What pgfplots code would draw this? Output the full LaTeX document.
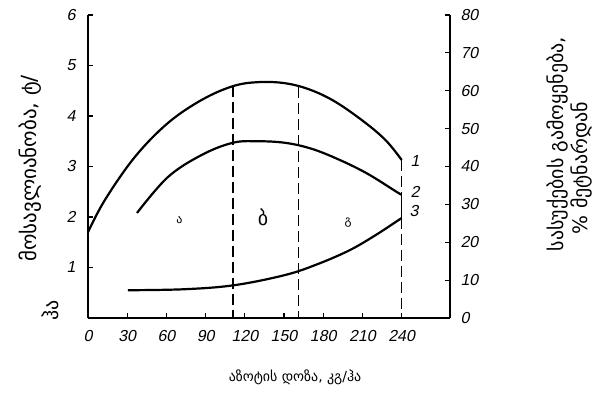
\documentclass[border=0pt]{standalone}
\usepackage{fontspec}
\setmainfont{Liberation Sans}
\newfontfamily\tickfont{Liberation Sans}[FakeSlant=0.2]
\newfontfamily\geo{DejaVu Sans}
\usepackage{pgfplots}
\pgfplotsset{compat=1.18}
\begin{document}
\begin{tikzpicture}[x=1bp,y=1bp]
\useasboundingbox (-88,-75) rectangle (510,318);
\pgfplotsset{
  common/.style={
    scale only axis, width=362bp, height=303bp,
    at={(0,0)}, anchor=south west,
    xmin=0, xmax=277,
    tick align=inside,
    major tick length=5bp,
    axis line style={-, line width=1.6bp},
    tick style={line width=1.2bp, black},
    /pgf/number format/assume math mode=true,
    ticklabel style={font=\tickfont\fontsize{16}{16}\selectfont},
  }
}
\begin{axis}[common,
  axis x line*=bottom, axis y line*=left,
  ymin=0, ymax=6,
  xtick={0,30,...,240},
  ytick={1,2,3,4,5,6},
  yticklabel style={xshift=-9bp},
  xticklabel style={yshift=-9bp},
]
% curve 1
\addplot[black, line width=2.2bp, smooth, tension=0.6] coordinates {
 (0,1.70) (13.0,2.34) (35.9,3.19) (61.1,3.86) (87.1,4.32) (110.8,4.59)
 (129.9,4.67) (150.6,4.65) (170,4.52) (190,4.27) (213,3.85) (228.5,3.50) (240,3.13)};
% curve 2
\addplot[black, line width=2.2bp, smooth, tension=0.6] coordinates {
 (37.5,2.08) (61.1,2.79) (87.1,3.23) (110.8,3.47) (129.9,3.50)
 (150.6,3.47) (170,3.36) (190,3.16) (213,2.87) (236,2.50) (240,2.44)};
% curve 3
\addplot[black, line width=2.2bp, smooth, tension=0.6] coordinates {
 (30.6,0.55) (74,0.57) (112,0.65) (150.6,0.85)
 (175,1.06) (200,1.34) (220,1.64) (240,1.98)};
% dashed separators
\addplot[black, line width=1.3bp, dash pattern=on 11bp off 5bp] coordinates {(111,4.59) (111,0)};
\addplot[black, line width=1.3bp, dash pattern=on 11bp off 5bp] coordinates {(161,4.58) (161,0)};
\addplot[black, line width=1.3bp, dash pattern=on 11bp off 5bp] coordinates {(240,3.13) (240,2.44)};
\addplot[black, line width=1.3bp] coordinates {(240,2.44) (240,1.98)};
\addplot[black, line width=1.3bp, dash pattern=on 11bp off 5bp] coordinates {(240,1.98) (240,0)};
\node[font=\geo\fontsize{12}{12}\selectfont] at (axis cs:70,1.94) {ა};
\node[font=\geo\fontsize{20}{20}\selectfont] at (axis cs:134,2.0) {ბ};
\node[font=\geo\fontsize{12}{12}\selectfont] at (axis cs:199,1.88) {გ};
\end{axis}
\begin{axis}[common,
  axis x line=none, axis y line*=right,
  ymin=0, ymax=80,
  ytick={0,10,...,80},
  yticklabel style={xshift=7bp},
]
\end{axis}
% curve numbers
\node[font=\tickfont\fontsize{16}{16}\selectfont] at (327,157) {1};
\node[font=\tickfont\fontsize{16}{16}\selectfont] at (327,126) {2};
\node[font=\tickfont\fontsize{16}{16}\selectfont] at (326,107) {3};
% axis titles
\node[font=\geo\fontsize{14}{14}\selectfont] at (207,-59) {აზოტის დოზა, კგ/ჰა};
\node[rotate=90, anchor=west, font=\geo\fontsize{21}{21}\selectfont] at (-58,53) {მოსავლიანობა, ტ/};
\node[rotate=90, font=\geo\fontsize{20}{20}\selectfont] at (-38,8) {ჰა};
\node[rotate=90, font=\geo\fontsize{20}{20}\selectfont] at (469,174) {სასუქების გამოყენება,};
\node[rotate=90, font=\geo\fontsize{20}{20}\selectfont] at (493,150) {\% მეტნარდან};
\end{tikzpicture}
\end{document}
